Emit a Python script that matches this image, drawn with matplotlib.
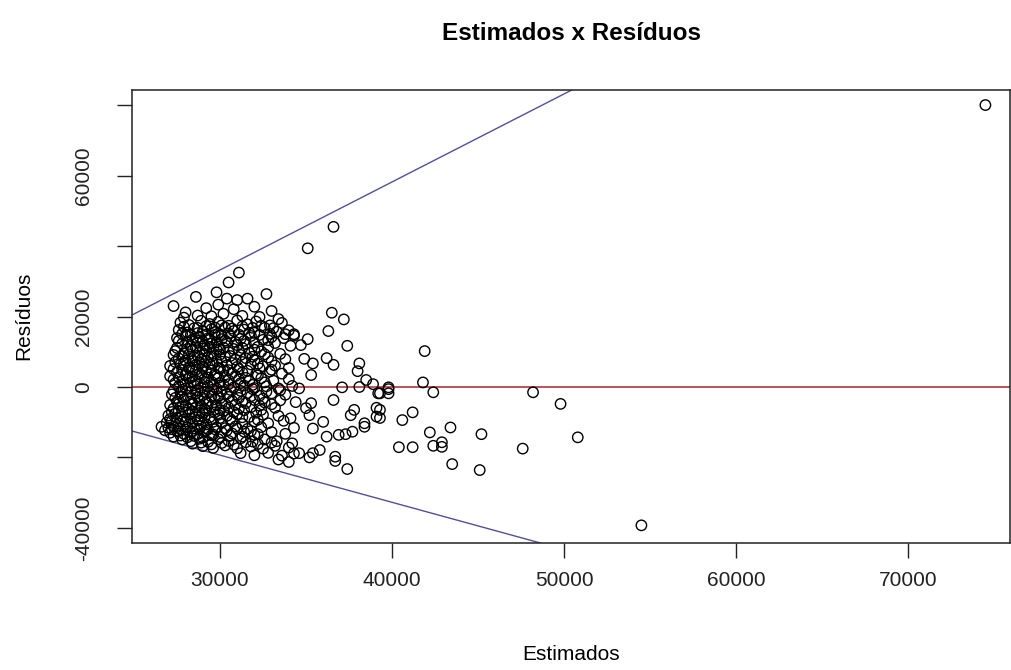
import matplotlib
matplotlib.use("Agg")
import matplotlib.pyplot as plt
import numpy as np

# values in thousands (estimated, residual)
scattered = [
    (74.5, 80.1), (54.5, -39.3),
    (36.6, 45.5), (35.1, 39.4), (31.1, 32.5), (30.5, 29.7), (29.8, 26.9), (32.7, 26.4),
    (28.6, 25.6), (30.4, 25.1), (31.0, 24.7), (31.6, 25.1), (27.3, 23.0),
    (36.5, 21.1), (37.2, 19.2), (36.3, 15.9), (37.4, 11.7), (38.1, 6.7), (38.0, 4.5),
    (38.5, 2.0), (38.9, 0.8), (39.2, -1.8), (39.8, -0.1), (39.8, -1.8), (37.1, -0.1),
    (38.1, 0.0), (36.6, -3.7), (37.8, -6.5), (37.6, -8.0), (39.1, -5.9), (39.1, -8.4),
    (38.4, -10.3), (38.4, -11.3), (37.7, -12.7), (37.3, -13.4), (36.9, -13.6), (36.2, -14.1),
    (40.6, -9.4), (41.2, -7.2), (40.4, -17.1), (41.2, -17.1), (37.4, -23.3), (36.7, -19.8),
    (36.7, -21.0), (36.0, -9.9), (35.4, -11.8), (35.2, -8.0), (35.3, -4.6), (35.0, -6.0),
    (35.8, -17.9), (35.4, -18.8), (35.2, -20.0), (34.6, -18.8), (34.2, -16.0), (34.3, -11.6),
    (34.1, -8.9), (34.6, -0.4), (35.3, 3.4), (35.4, 6.7), (36.2, 8.2), (36.6, 6.3),
    (34.9, 8.0), (35.1, 13.6), (34.7, 11.9), (34.3, 15.0), (33.8, 15.0), (26.6, -11.3),
    (41.9, 10.2), (41.8, 1.3), (42.4, -1.5), (48.2, -1.5), (49.8, -4.8), (50.8, -14.3),
    (47.6, -17.5), (45.2, -13.4), (45.1, -23.6), (43.5, -21.9), (43.4, -11.5), (42.9, -15.7),
    (42.9, -17.0), (42.4, -16.7), (42.2, -12.9), (39.8, -0.6), (39.3, -1.8), (39.3, -6.5),
    (39.3, -8.8),
]

cluster = [
    (27.9, 19.7), (28.7, 20.3), (29.5, 20.1), (30.2, 20.8), (31.3, 20.2), (32.3, 19.9),
    (33.4, 19.3), (29.2, 22.4), (28.0, 21.2), (29.9, 23.4), (30.8, 22.1), (32.0, 22.8),
    (33.0, 21.6),
    (27.7, 18.3), (28.2, 17.6), (28.9, 18.8), (29.4, 17.9), (29.9, 18.5), (30.5, 17.4),
    (31.0, 18.9), (31.6, 17.8), (32.1, 18.6), (32.9, 17.5), (33.6, 18.2),
    (27.6, 16.2), (28.1, 15.5), (28.5, 16.7), (29.0, 15.8), (29.5, 16.4), (29.9, 15.2),
    (30.3, 16.9), (30.8, 15.9), (31.4, 16.3), (32.0, 15.4), (32.6, 16.8), (33.3, 15.7),
    (34.0, 16.1),
    (27.5, 13.9), (28.0, 14.6), (28.4, 13.5), (28.8, 14.3), (29.3, 13.8), (29.7, 14.8),
    (30.1, 13.6), (30.6, 14.4), (31.2, 13.7), (31.8, 14.5), (32.5, 13.4), (33.0, 14.2),
    (33.7, 13.9), (34.3, 14.6),
    (27.8, 12.3), (28.3, 11.6), (28.7, 12.6), (29.1, 11.8), (29.5, 12.4), (29.9, 11.5),
    (30.4, 12.7), (31.0, 11.9), (31.5, 12.2), (32.2, 11.4), (33.2, 12.5), (34.1, 11.7),
    (27.4, 10.2), (27.9, 9.6), (28.4, 10.5), (28.8, 9.8), (29.2, 10.3), (29.6, 9.5),
    (30.0, 10.6), (30.5, 9.9), (31.1, 10.4), (31.7, 9.7), (32.4, 10.1), (33.5, 9.4),
    (27.6, 8.1), (28.0, 7.5), (28.5, 8.4), (28.9, 7.7), (29.3, 8.3), (29.8, 7.4),
    (30.3, 8.5), (30.9, 7.8), (31.5, 8.2), (32.0, 7.6), (32.8, 8.4), (33.8, 7.9),
    (27.1, 6.0), (27.7, 6.4), (28.2, 5.6), (28.6, 6.3), (29.0, 5.8), (29.4, 6.5),
    (29.9, 5.5), (30.4, 6.2), (31.0, 5.7), (31.8, 6.4), (32.5, 5.9), (33.2, 6.1),
    (34.0, 5.4),
    (27.5, 4.2), (28.0, 3.6), (28.4, 4.5), (28.8, 3.8), (29.2, 4.3), (29.7, 3.5),
    (30.2, 4.6), (30.7, 3.9), (31.3, 4.1), (32.1, 3.7), (32.9, 4.4), (33.6, 3.8),
    (27.3, 2.1), (27.8, 1.6), (28.2, 2.4), (28.6, 1.8), (29.1, 2.3), (29.5, 1.5),
    (29.9, 2.6), (30.5, 1.9), (31.1, 2.2), (31.7, 1.7), (32.4, 2.5), (33.1, 1.8),
    (34.0, 2.2),
    (27.6, 0.2), (28.0, -0.4), (28.5, 0.5), (28.9, -0.2), (29.3, 0.3), (29.8, -0.5),
    (30.2, 0.6), (30.8, -0.1), (31.4, 0.4), (32.0, -0.3), (32.7, 0.2), (33.4, -0.4),
    (34.2, 0.3),
    (27.2, -2.1), (27.7, -1.6), (28.1, -2.4), (28.6, -1.8), (29.0, -2.3), (29.4, -1.5),
    (29.9, -2.6), (30.4, -1.9), (31.0, -2.2), (31.6, -1.7), (32.3, -2.5), (33.0, -1.8),
    (33.8, -2.2),
    (27.5, -4.2), (27.9, -3.6), (28.4, -4.5), (28.8, -3.8), (29.2, -4.3), (29.7, -3.5),
    (30.1, -4.6), (30.7, -3.9), (31.3, -4.1), (32.0, -3.7), (32.6, -4.4), (33.5, -3.8),
    (34.4, -4.3),
    (27.3, -6.1), (27.8, -5.6), (28.2, -6.4), (28.6, -5.8), (29.1, -6.3), (29.5, -5.5),
    (30.0, -6.6), (30.5, -5.9), (31.1, -6.2), (31.8, -5.7), (32.4, -6.5), (33.2, -5.9),
    (27.0, -8.1), (27.4, -7.6), (27.8, -8.4), (28.2, -7.8), (28.6, -8.3), (29.0, -7.5),
    (29.4, -8.6), (29.9, -7.9), (30.4, -8.2), (31.0, -7.7), (31.7, -8.5), (32.5, -7.9),
    (33.4, -8.2),
    (26.9, -10.1), (27.2, -9.6), (27.6, -10.4), (28.0, -9.8), (28.4, -10.3), (28.8, -9.5),
    (29.2, -10.6), (29.6, -9.9), (30.1, -10.2), (30.7, -9.7), (31.3, -10.5), (32.0, -9.8),
    (32.8, -10.3), (33.7, -9.6),
    (27.0, -11.6), (27.3, -11.2), (27.7, -11.9), (28.1, -11.4), (28.5, -11.8), (28.9, -11.1),
    (29.3, -12.0), (29.8, -11.5), (30.3, -11.7), (30.9, -11.2), (31.6, -11.9), (32.4, -11.4),
    (27.1, -13.0), (27.5, -12.6), (27.9, -13.3), (28.3, -12.8), (28.7, -13.4), (29.1, -12.7),
    (29.6, -13.5), (30.1, -12.9), (30.7, -13.2), (31.4, -12.7), (32.2, -13.4), (33.0, -12.8),
    (33.8, -13.3),
    (27.8, -14.9), (28.3, -15.4), (28.8, -14.7), (29.3, -15.6), (29.9, -14.8), (30.5, -15.3),
    (31.2, -14.6), (31.9, -15.5), (32.6, -14.9), (33.3, -15.4),
    (29.0, -16.8), (29.6, -17.3), (30.3, -16.6), (31.0, -17.4), (31.8, -16.9), (32.5, -17.5),
    (33.2, -16.7), (34.0, -17.2),
    (31.2, -18.8), (32.0, -19.4), (32.8, -18.7), (33.6, -19.5), (34.3, -18.9),
    (33.4, -20.6), (34.0, -21.3),
]

# second, offset layer of the dense core
core = [
    (27.9, 17.1), (28.7, 16.8), (29.2, 17.3), (29.7, 16.9), (30.1, 17.5), (30.7, 16.6),
    (31.3, 17.2), (31.9, 16.8), (32.4, 17.4), (33.1, 16.7),
    (27.8, 15.1), (28.3, 14.8), (28.7, 15.3), (29.2, 14.9), (29.7, 15.6), (30.1, 14.7),
    (30.5, 15.2), (31.1, 14.9), (31.7, 15.4), (32.3, 14.8), (32.9, 15.1),
    (27.6, 13.1), (28.1, 12.8), (28.6, 13.3), (29.0, 12.9), (29.4, 13.4), (29.8, 12.7),
    (30.3, 13.2), (30.9, 12.8), (31.4, 13.1), (32.0, 12.6), (32.8, 13.3),
    (27.5, 11.1), (28.1, 10.8), (28.6, 11.3), (29.0, 10.9), (29.4, 11.4), (29.8, 10.7),
    (30.2, 11.2), (30.8, 10.8), (31.3, 11.1), (32.0, 10.6), (32.8, 11.3),
    (27.3, 9.1), (27.8, 8.8), (28.2, 9.3), (28.7, 8.9), (29.1, 9.4), (29.5, 8.7),
    (30.0, 9.2), (30.6, 8.8), (31.2, 9.1), (31.9, 8.6), (32.6, 9.3),
    (27.4, 7.1), (27.9, 6.8), (28.4, 7.3), (28.8, 6.9), (29.2, 7.4), (29.6, 6.7),
    (30.1, 7.2), (30.7, 6.8), (31.3, 7.1), (32.2, 6.6), (33.0, 7.3),
    (27.3, 5.1), (27.8, 4.8), (28.2, 5.3), (28.6, 4.9), (29.0, 5.4), (29.5, 4.7),
    (30.0, 5.2), (30.5, 4.8), (31.1, 5.1), (31.6, 4.6), (32.3, 5.3), (33.0, 4.9),
    (27.1, 3.1), (27.6, 2.8), (28.0, 3.3), (28.4, 2.9), (28.9, 3.4), (29.3, 2.7),
    (29.8, 3.2), (30.3, 2.8), (30.9, 3.1), (31.5, 2.6), (32.2, 3.3),
    (27.4, 1.1), (27.9, 0.8), (28.3, 1.3), (28.7, 0.9), (29.1, 1.4), (29.6, 0.7),
    (30.0, 1.2), (30.5, 0.8), (31.2, 1.1), (31.9, 0.6), (32.6, 1.3),
    (27.3, -1.1), (27.8, -0.8), (28.3, -1.3), (28.7, -0.9), (29.1, -1.4), (29.6, -0.7),
    (30.1, -1.2), (30.6, -0.8), (31.2, -1.1), (31.9, -0.6), (32.7, -1.3), (33.5, -0.9),
    (27.4, -3.1), (27.8, -2.8), (28.3, -3.3), (28.7, -2.9), (29.1, -3.4), (29.5, -2.7),
    (30.0, -3.2), (30.5, -2.8), (31.1, -3.1), (31.8, -2.6), (32.5, -3.3),
    (27.1, -5.1), (27.6, -4.8), (28.0, -5.3), (28.4, -4.9), (28.9, -5.4), (29.3, -4.7),
    (29.8, -5.2), (30.3, -4.8), (30.9, -5.1), (31.5, -4.6), (32.3, -5.3), (33.0, -4.9),
    (27.2, -7.1), (27.6, -6.8), (28.0, -7.3), (28.4, -6.9), (28.8, -7.4), (29.2, -6.7),
    (29.7, -7.2), (30.2, -6.8), (30.8, -7.1), (31.4, -6.6), (32.1, -7.3),
    (27.1, -9.1), (27.5, -8.8), (27.9, -9.3), (28.3, -8.9), (28.7, -9.4), (29.1, -8.7),
    (29.5, -9.2), (30.0, -8.8), (30.6, -9.1), (31.3, -8.6), (32.2, -9.3),
    (26.8, -12.3), (27.2, -12.0), (27.6, -12.5), (28.0, -12.1), (28.4, -12.6), (28.8, -11.9),
    (29.2, -12.4), (29.7, -12.0), (30.4, -12.3), (31.0, -11.8), (31.8, -12.5),
    (27.3, -14.1), (27.7, -13.8), (28.1, -14.3), (28.5, -13.9), (29.0, -14.4), (29.5, -13.7),
    (30.0, -14.2), (30.6, -13.8), (31.3, -14.1), (32.0, -13.6),
    (28.4, -16.1), (28.9, -15.8), (29.5, -16.3), (30.1, -15.9), (30.8, -16.4), (31.5, -15.7),
    (32.2, -16.2), (33.0, -15.8),
]

# reference lines: (intercept, slope)
upper_line = (-41755, 2.50)
lower_line = (20845, -1.34)

x_ticks = [30000, 40000, 50000, 60000, 70000]
y_ticks = [-40000, -20000, 0, 20000, 40000, 60000, 80000]
y_tick_labels = ["-40000", "", "0", "20000", "", "60000", ""]


def main():
    plt.rcParams['font.family'] = ['Liberation Sans', 'DejaVu Sans']
    pts = np.array(scattered + cluster + core) * 1000

    fig = plt.figure(figsize=(10.11, 6.70), dpi=100)
    ax = fig.add_axes([132 / 1011, 1 - 543 / 670, (1010 - 132) / 1011, (543 - 90) / 670])

    ax.scatter(pts[:, 0], pts[:, 1], s=56, facecolors='none', edgecolors='black',
               linewidths=1.0, zorder=3)
    ax.axhline(0, color='#a8262a', linewidth=1.1, zorder=2)
    ax.axline((0, upper_line[0]), slope=upper_line[1], color='#50509a', linewidth=1.0, zorder=2)
    ax.axline((0, lower_line[0]), slope=lower_line[1], color='#50509a', linewidth=1.0, zorder=2)

    ax.set_xlim(24884, 75930)
    ax.set_ylim(-44318, 84375)
    ax.set_xticks(x_ticks)
    ax.set_xticklabels([str(t) for t in x_ticks])
    ax.set_yticks(y_ticks)
    ax.set_yticklabels(y_tick_labels, rotation=90, va='center')
    ax.tick_params(direction='out', length=11, width=1, labelsize=15, colors='#222222')
    ax.tick_params(axis='x', pad=9)
    ax.tick_params(axis='y', pad=17)
    for sp in ax.spines.values():
        sp.set_linewidth(1.1)
        sp.set_color('#222222')

    fig.text(0.5648, 1 - 33 / 670, "Estimados x Resíduos", ha='center', va='center',
             fontsize=17.5, fontweight='bold')
    fig.text(0.5648, 1 - 655 / 670, "Estimados", ha='center', va='center', fontsize=15)
    fig.text(24 / 1011, 1 - 316 / 670, "Resíduos", ha='center', va='center',
             rotation=90, fontsize=15)

    fig.savefig("out.png", dpi=100)


if __name__ == "__main__":
    main()
